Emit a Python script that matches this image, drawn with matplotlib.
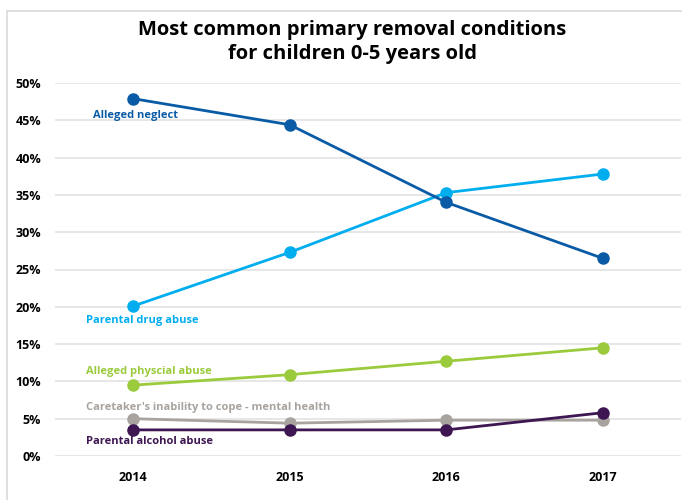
import matplotlib.pyplot as plt
import matplotlib.patches as patches
from matplotlib.ticker import PercentFormatter

years = ['2014', '2015', '2016', '2017']
neglect = [47.9, 44.4, 34.0, 26.5]
drug = [20.1, 27.3, 35.3, 37.8]
physical = [9.5, 10.9, 12.7, 14.5]
caretaker = [5.0, 4.4, 4.8, 4.8]
alcohol = [3.5, 3.5, 3.5, 5.8]

series_names = ['Alleged neglect', 'Parental drug abuse', 'Alleged physcial abuse',
                "Caretaker's inability to cope - mental health", 'Parental alcohol abuse']
series_values = [neglect, drug, physical, caretaker, alcohol]
colors = ['#0a5ba6', '#00aeef', '#9bcb3c', '#a8a39e', '#3d1652']
# label anchor (x offset, y value) for the inline labels
label_pos = [(-0.255, 45.7), (-0.30, 18.2), (-0.30, 11.3), (-0.30, 6.5), (-0.30, 1.9)]

plt.rcParams['font.family'] = ['Open Sans', 'DejaVu Sans']

fig = plt.figure(figsize=(6.82, 5.0), dpi=100)
ax = fig.add_axes([55 / 682, 1 - 456 / 500, 626 / 682, 373 / 500])

# light frame around the chart
fig.patches.append(patches.Rectangle((7 / 682, -0.01), 1.0, 1 - 11 / 500 + 0.01,
                                     transform=fig.transFigure, fill=False,
                                     edgecolor='#d9d9d9', linewidth=1.2))

x = range(len(years))
# draw caretaker before alcohol so purple sits on top, like the original
order = [3, 2, 4, 1, 0]
for i in order:
    ax.plot(x, series_values[i], color=colors[i], linewidth=2, marker='o',
            markersize=8, zorder=3)

for (lx, ly), name, c in zip(label_pos, series_names, colors):
    ax.text(lx, ly, name, color=c, fontsize=8, fontweight='bold',
            ha='left', va='center')

ax.set_xlim(-0.5, 3.5)
ax.set_ylim(0, 50)
ax.set_yticks(range(0, 51, 5))
ax.yaxis.set_major_formatter(PercentFormatter(decimals=0))
ax.set_xticks(list(x))
ax.set_xticklabels(years)
ax.grid(axis='y', color='#e3e3e3', linewidth=1.2, zorder=0)
ax.set_axisbelow(True)
for s in ax.spines.values():
    s.set_visible(False)
ax.tick_params(length=0, labelsize=9)
ax.tick_params(axis='x', pad=11)
ax.tick_params(axis='y', pad=10)
for lbl in ax.get_xticklabels() + ax.get_yticklabels():
    lbl.set_fontweight('bold')

fig.text(352 / 682, 1 - 42 / 500, 'Most common primary removal conditions\nfor children 0-5 years old',
         ha='center', va='center', fontsize=14.5, fontweight='bold', linespacing=1.3)

fig.savefig('out.png', dpi=100)
